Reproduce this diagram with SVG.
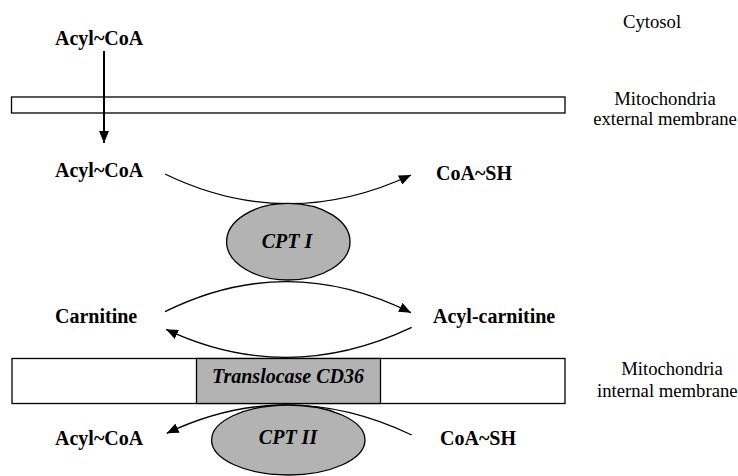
<svg xmlns="http://www.w3.org/2000/svg" width="738" height="476" viewBox="0 0 738 476">
<style>
text{font-family:"Liberation Serif","Tinos","Times New Roman","DejaVu Serif",serif;fill:#000}
.b{font-weight:bold;font-size:20px}
.bi{font-weight:bold;font-style:italic;font-size:20px}
.r{font-size:18.7px}
.mem{fill:#fff;stroke:#000;stroke-width:1.3}
.enz{fill:#b3b3b3;stroke:#000;stroke-width:1.3}
.c{fill:none;stroke:#000;stroke-width:1.3}
</style>
<defs>
<marker id="ah" viewBox="0 0 12 10" refX="12" refY="5" markerWidth="12" markerHeight="10" markerUnits="userSpaceOnUse" orient="auto">
<path d="M0,0 L12,5 L0,10 Z" fill="#000"/>
</marker>
</defs>

<g id="labels">
<text class="r" x="652" y="28" text-anchor="middle">Cytosol</text>
<text class="r" x="665" y="105" text-anchor="middle">Mitochondria</text>
<text class="r" x="665" y="125" text-anchor="middle">external membrane</text>
<text class="r" x="672" y="375" text-anchor="middle">Mitochondria</text>
<text class="r" x="597" y="397">internal membrane</text>
</g>

<g id="external-membrane">
<rect class="mem" x="11.5" y="97" width="553.5" height="16"/>
</g>

<g id="internal-membrane">
<rect class="mem" x="12" y="358.5" width="553" height="45"/>
</g>

<g id="connectors">
<path class="c" d="M165,174 Q287,233 411,175" marker-end="url(#ah)"/>
<path class="c" d="M165,311.7 Q287,251 411,312.7" marker-end="url(#ah)"/>
<path class="c" d="M411.7,327.3 Q287,386.3 166,329.3" marker-end="url(#ah)"/>
<path class="c" d="M411.7,435 Q287,375.8 166.7,433.3" marker-end="url(#ah)"/>
<line x1="104" y1="51" x2="104" y2="143" stroke="#000" stroke-width="2" marker-end="url(#ah)"/>
</g>

<g id="acylcoa-cytosol"><text class="b" x="55" y="45">Acyl~CoA</text></g>
<g id="acylcoa-ims"><text class="b" x="55" y="177">Acyl~CoA</text></g>
<g id="coash-ims"><text class="b" x="436" y="180">CoA~SH</text></g>
<g id="carnitine"><text class="b" x="55" y="323">Carnitine</text></g>
<g id="acylcarnitine"><text class="b" x="433" y="323">Acyl-carnitine</text></g>
<g id="acylcoa-matrix"><text class="b" x="55" y="445">Acyl~CoA</text></g>
<g id="coash-matrix"><text class="b" x="440" y="445">CoA~SH</text></g>

<g id="cpt1">
<ellipse class="enz" cx="288.3" cy="241.7" rx="61.7" ry="38.3"/>
<text class="bi" x="287" y="248" text-anchor="middle">CPT I</text>
</g>

<g id="translocase">
<rect class="enz" x="196.5" y="358.5" width="184" height="45"/>
<text class="bi" x="288" y="383" text-anchor="middle">Translocase CD36</text>
</g>

<g id="cpt2">
<ellipse class="enz" cx="288.3" cy="440" rx="76.7" ry="35"/>
<text class="bi" x="288" y="444" text-anchor="middle">CPT II</text>
</g>
</svg>
